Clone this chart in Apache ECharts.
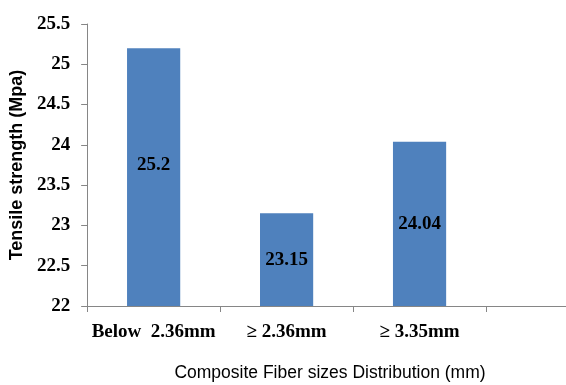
<!DOCTYPE html>
<html>
<head>
<meta charset="utf-8">
<script src="https://cdn.jsdelivr.net/npm/echarts@6/dist/echarts.min.js"></script>
<style>
  html, body { margin: 0; padding: 0; background: #fff; overflow: hidden; width: 566px; height: 385px; }
  /* The plot runs on past the right edge of the window, so the last slot is cut off */
  #chart { width: 619px; height: 385px; }
</style>
</head>
<body>
<div id="chart"></div>
<script>
// Fiber size groups (the trailing empty slot keeps the open space at the right)
const categories = ['Below  2.36mm', '\u2265 2.36mm', '\u2265 3.35mm', ''];
// Tensile strength in MPa for each group
const strength = [25.2, 23.15, 24.04, null];
// Value-axis range
const yMin = 22, yMax = 25.5, yStep = 0.5;

const chart = echarts.init(document.getElementById('chart'), null, { renderer: 'canvas' });
const axisGray = '#868686';
const serif = '"Liberation Serif", "Times New Roman", serif';
const sans = '"Liberation Sans", Arial, sans-serif';

// The first bar's label sits a little above the bar's middle
const barData = strength.map((v, i) =>
  i === 0 ? { value: v, label: { offset: [0, -12] } } : v
);

chart.setOption({
  animation: false,
  backgroundColor: '#ffffff',
  title: {
    text: 'Composite Fiber sizes Distribution (mm)',
    left: 330,
    top: 364,
    textAlign: 'center',
    padding: 0,
    textStyle: { fontFamily: sans, fontSize: 17.5, fontWeight: 'normal', color: '#000' }
  },
  grid: { left: 87, top: 24, bottom: 79, right: 0, containLabel: false },
  xAxis: {
    type: 'category',
    data: categories,
    axisLine: { lineStyle: { color: axisGray, width: 1 } },
    axisTick: { show: true, length: 6, alignWithLabel: false, lineStyle: { color: axisGray } },
    axisLabel: {
      interval: 0, margin: 17, color: '#000',
      fontFamily: serif, fontSize: 19, fontWeight: 'bold'
    },
    splitLine: { show: false }
  },
  yAxis: {
    type: 'value',
    min: yMin, max: yMax, interval: yStep,
    name: 'Tensile strength (Mpa)',
    nameLocation: 'middle',
    nameGap: 61,
    nameRotate: 90,
    nameTextStyle: { fontFamily: sans, fontSize: 18, fontWeight: 'bold', color: '#000' },
    axisLine: { show: true, lineStyle: { color: axisGray, width: 1 } },
    axisTick: { show: true, length: 6, lineStyle: { color: axisGray } },
    axisLabel: { margin: 17, color: '#000', fontFamily: serif, fontSize: 19, fontWeight: 'bold' },
    splitLine: { show: false }
  },
  series: [{
    type: 'bar',
    data: barData,
    barWidth: '40%',
    itemStyle: { color: '#4F81BD' },
    label: {
      show: true,
      position: 'inside',
      color: '#000',
      fontFamily: serif,
      fontSize: 19,
      fontWeight: 'bold'
    }
  }]
});
</script>
</body>
</html>
